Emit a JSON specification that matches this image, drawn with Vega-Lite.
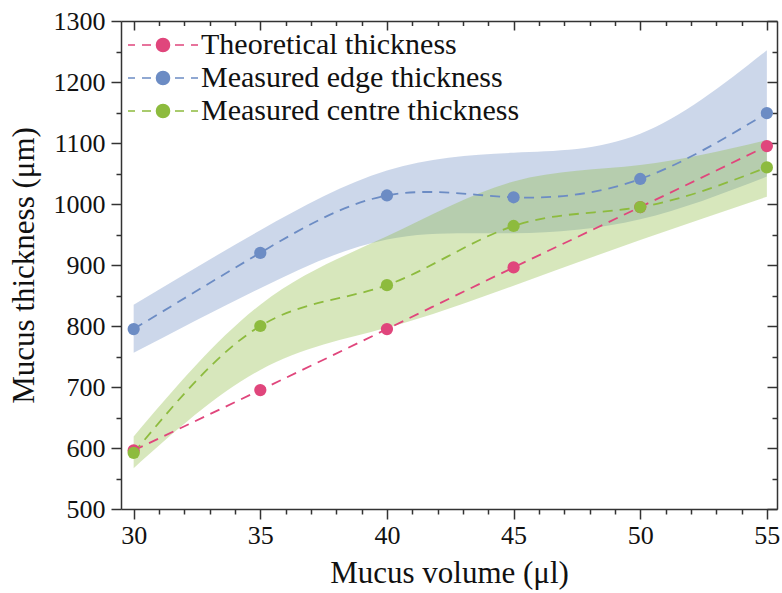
{
  "$schema": "https://vega.github.io/schema/vega-lite/v6.json",
  "autosize": "none",
  "width": 656,
  "height": 488,
  "padding": {"left": 121, "top": 21, "right": 5, "bottom": 84},
  "background": "white",
  "config": {
    "font": "Liberation Serif",
    "view": {"stroke": null},
    "axis": {
      "labelFont": "Liberation Serif",
      "titleFont": "Liberation Serif",
      "labelFontSize": 26,
      "titleFontSize": 31,
      "titleFontWeight": "normal",
      "labelColor": "#111",
      "titleColor": "#111",
      "domainColor": "#333",
      "domainWidth": 1.5,
      "tickColor": "#333",
      "tickWidth": 1.5,
      "grid": false
    },
    "legend": {"labelFont": "Liberation Serif"}
  },
  "data": {
    "values": [
      {"vol": 30, "series": "Theoretical thickness", "value": 596},
      {"vol": 35, "series": "Theoretical thickness", "value": 695},
      {"vol": 40, "series": "Theoretical thickness", "value": 795},
      {"vol": 45, "series": "Theoretical thickness", "value": 896},
      {"vol": 50, "series": "Theoretical thickness", "value": 995},
      {"vol": 55, "series": "Theoretical thickness", "value": 1095},
      {"vol": 30, "series": "Measured edge thickness", "value": 795, "lo": 756, "hi": 835},
      {"vol": 35, "series": "Measured edge thickness", "value": 920, "lo": 862, "hi": 957},
      {"vol": 40, "series": "Measured edge thickness", "value": 1014, "lo": 942, "hi": 1055},
      {"vol": 45, "series": "Measured edge thickness", "value": 1011, "lo": 952, "hi": 1084},
      {"vol": 50, "series": "Measured edge thickness", "value": 1041, "lo": 975, "hi": 1115},
      {"vol": 55, "series": "Measured edge thickness", "value": 1149, "lo": 1045, "hi": 1252},
      {"vol": 30, "series": "Measured centre thickness", "value": 592, "lo": 567, "hi": 619},
      {"vol": 35, "series": "Measured centre thickness", "value": 800, "lo": 728, "hi": 835},
      {"vol": 40, "series": "Measured centre thickness", "value": 867, "lo": 797, "hi": 947},
      {"vol": 45, "series": "Measured centre thickness", "value": 964, "lo": 866, "hi": 1037},
      {"vol": 50, "series": "Measured centre thickness", "value": 995, "lo": 941, "hi": 1064},
      {"vol": 55, "series": "Measured centre thickness", "value": 1060, "lo": 1012, "hi": 1105}
    ]
  },
  "resolve": {"axis": {"x": "independent", "y": "independent"}},
  "layer": [
    {
      "encoding": {
        "x": {
          "field": "vol", "type": "quantitative",
          "scale": {"domain": [29.5, 55.4], "nice": false, "zero": false},
          "axis": {
            "title": "Mucus volume (μl)",
            "format": "d",
            "values": [30,31,32,33,34,35,36,37,38,39,40,41,42,43,44,45,46,47,48,49,50,51,52,53,54,55],
            "labelExpr": "datum.value % 5 === 0 ? datum.label : ''",
            "tickSize": {"condition": {"test": "datum.value % 5 === 0", "value": 10}, "value": 5},
            "labelPadding": 3,
            "titlePadding": 10,
            "labelFlush": false
          }
        },
        "y": {
          "field": "value", "type": "quantitative",
          "scale": {"domain": [500, 1300], "nice": false, "zero": false},
          "axis": {
            "title": "Mucus thickness (μm)",
            "format": "d",
            "values": [500,550,600,650,700,750,800,850,900,950,1000,1050,1100,1150,1200,1250,1300],
            "labelExpr": "datum.value % 100 === 0 ? datum.label : ''",
            "tickSize": {"condition": {"test": "datum.value % 100 === 0", "value": 10}, "value": 5},
            "labelPadding": 6,
            "titlePadding": 13,
            "labelFlush": false
          }
        }
      },
      "layer": [
        {
          "transform": [{"filter": "datum.series === 'Measured edge thickness'"}],
          "mark": {"type": "area", "interpolate": "natural", "opacity": 0.35},
          "encoding": {
            "y": {"field": "lo", "type": "quantitative"},
            "y2": {"field": "hi"},
            "color": {"field": "series", "type": "nominal",
              "scale": {"domain": ["Theoretical thickness", "Measured edge thickness", "Measured centre thickness"], "range": ["#E0467C", "#6C8CC4", "#8DBB3E"]}}
          }
        },
        {
          "transform": [{"filter": "datum.series === 'Measured centre thickness'"}],
          "mark": {"type": "area", "interpolate": "natural", "opacity": 0.35},
          "encoding": {
            "y": {"field": "lo", "type": "quantitative"},
            "y2": {"field": "hi"},
            "color": {"field": "series", "type": "nominal"}
          }
        },
        {
          "mark": {"type": "line", "interpolate": "natural", "strokeDash": [10, 7], "strokeWidth": 1.8},
          "encoding": {
            "color": {"field": "series", "type": "nominal"}
          }
        },
        {
          "mark": {"type": "point", "filled": true, "opacity": 1, "size": 150},
          "encoding": {
            "color": {
              "field": "series", "type": "nominal",
              "legend": {
                "orient": "none",
                "legendX": 2,
                "legendY": 9,
                "title": null,
                "padding": 0,
                "labelFontSize": 30,
                "labelColor": "#111",
                "labelLimit": 0,
                "labelOffset": 48,
                "rowPadding": 3,
                "symbolSize": 400,
                "symbolStrokeWidth": 1.6,
                "symbolOpacity": 1,
                "symbolType": "M-1,0L-0.3,0M0.4,0L1.3,0M1.85,0A0.65,0.65 0 1,1 3.15,0A0.65,0.65 0 1,1 1.85,0ZM3.7,0L4.6,0M5.3,0L6,0",
                "encode": {
                  "symbols": {
                    "update": {
                      "fill": {"scale": "color", "field": "value"},
                      "stroke": {"scale": "color", "field": "value"},
                      "opacity": {"value": 1}
                    }
                  }
                }
              }
            }
          }
        }
      ]
    },
    {
      "mark": {"type": "point", "opacity": 0},
      "encoding": {
        "x": {
          "field": "vol", "type": "quantitative",
          "axis": {
            "orient": "top", "title": null, "labels": false,
            "values": [30,31,32,33,34,35,36,37,38,39,40,41,42,43,44,45,46,47,48,49,50,51,52,53,54,55],
            "tickSize": {"condition": {"test": "datum.value % 5 === 0", "value": -9}, "value": -4.5}
          }
        },
        "y": {
          "field": "value", "type": "quantitative",
          "axis": {
            "orient": "right", "title": null, "labels": false,
            "values": [500,550,600,650,700,750,800,850,900,950,1000,1050,1100,1150,1200,1250,1300],
            "tickSize": {"condition": {"test": "datum.value % 100 === 0", "value": -10}, "value": -5}
          }
        }
      }
    }
  ]
}
